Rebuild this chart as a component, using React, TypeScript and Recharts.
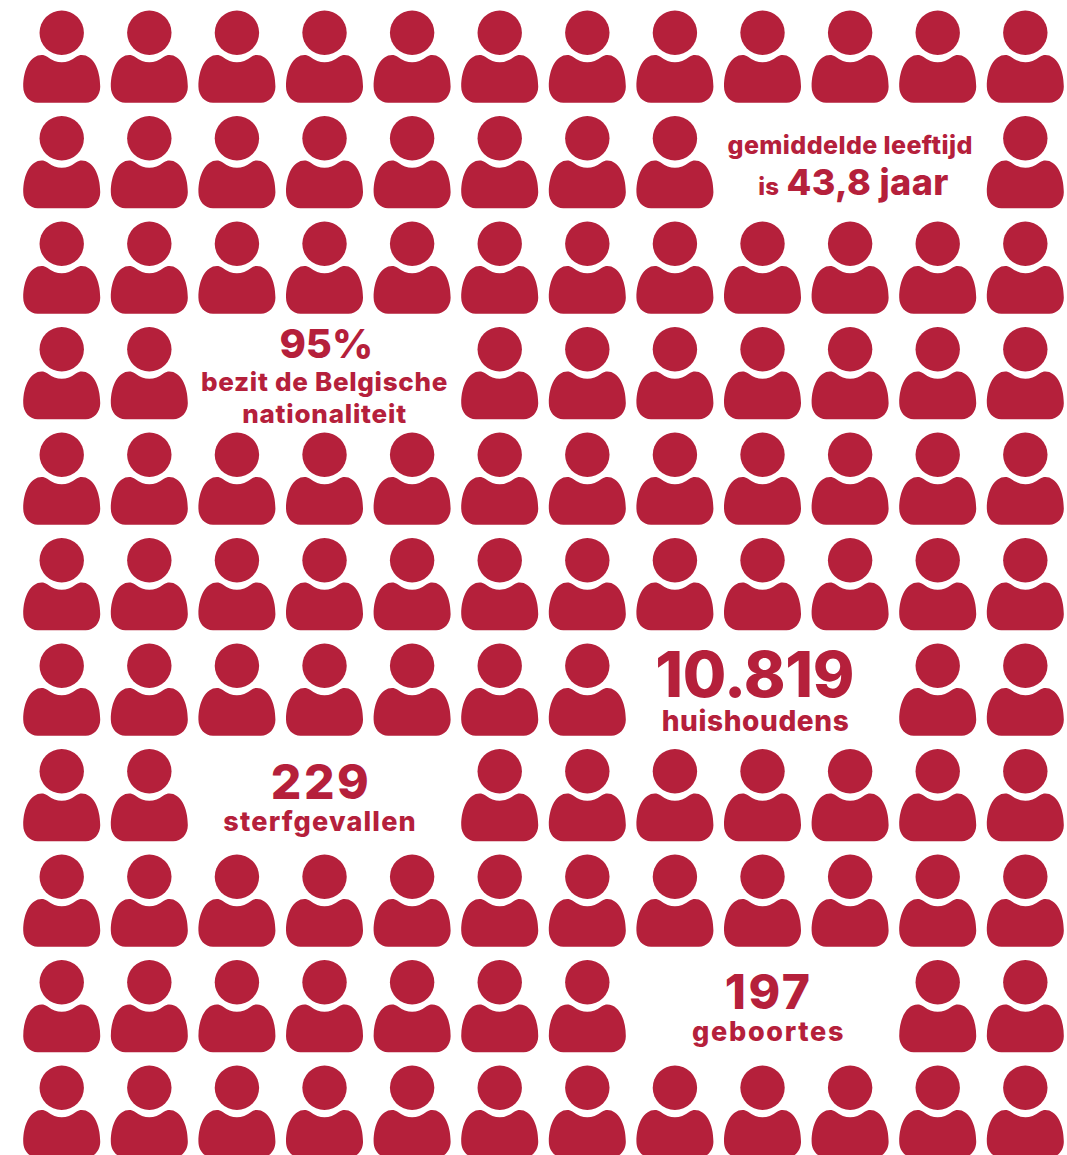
import React from "react";
import { ScatterChart, Scatter, XAxis, YAxis } from "recharts";

const WIDTH = 1067;
const HEIGHT = 1155;
const COLOR = "#b5203b";

const columns = [0, 1, 2, 3, 4, 5, 6, 7, 8, 9, 10, 11];
const rows = [0, 1, 2, 3, 4, 5, 6, 7, 8, 9, 10];
// text blocks take the place of these icons
const emptyRow1 = [8, 9, 10];
const emptyRow3 = [2, 3, 4];
const emptyRow6 = [7, 8, 9];
const emptyRow7 = [2, 3, 4];
const emptyRow9 = [7, 8, 9];

const emptyByRow: Record<number, number[]> = {
  1: emptyRow1,
  3: emptyRow3,
  6: emptyRow6,
  7: emptyRow7,
  9: emptyRow9,
};

const people = rows.flatMap((row) =>
  columns
    .filter((col) => !(emptyByRow[row] || []).includes(col))
    .map((col) => ({ col, row }))
);

const labelTexts = [
  "gemiddelde leeftijd",
  "is",
  "43,8 jaar",
  "95%",
  "bezit de Belgische",
  "nationaliteit",
  "10.819",
  "huishoudens",
  "229",
  "sterfgevallen",
  "197",
  "geboortes",
];
const labelCols = [9.0, 8.07, 9.2, 3.02, 3.0, 3.0, 7.91, 7.92, 2.96, 2.95, 8.07, 8.07];
const labelRows = [1.145, 1.54, 1.54, 3.085, 3.4, 3.7, 6.295, 6.615, 7.26, 7.57, 9.255, 9.56];
const labelFontSizes = [25, 24, 36, 40, 26, 26, 63, 28, 48, 27, 48, 27];
const labelSpacing = [0.4, 0, 0.4, 0, 0.7, 0.8, -0.4, 0.6, 2.5, 1.2, 2.5, 1.7];

const labels = labelTexts.map((text, i) => ({
  col: labelCols[i],
  row: labelRows[i],
  text,
  fontPx: labelFontSizes[i],
  spacing: labelSpacing[i],
}));

const BODY =
  "M-14.5 24Q0 35.2 14.5 24C16.5 22.8 18 22.3 20 22.3C31 22.3 38.5 36 38.5 54C38.5 63 32 70 24 70L-24 70C-32 70 -38.5 63 -38.5 54C-38.5 36 -31 22.3 -20 22.3C-18 22.3 -16.5 22.8 -14.5 24Z";

function Person(props: any) {
  const { cx, cy } = props;
  return (
    <g transform={`translate(${cx} ${cy})`} fill={COLOR}>
      <circle r={22.2} />
      <path d={BODY} />
    </g>
  );
}

function Caption(props: any) {
  const { cx, cy, text, fontPx, spacing } = props;
  return (
    <text
      x={cx}
      y={cy}
      textAnchor="middle"
      fill={COLOR}
      fontFamily="Inter, sans-serif"
      fontWeight={800}
      fontSize={fontPx}
      letterSpacing={spacing}
    >
      {text}
    </text>
  );
}

export default function App() {
  return (
    <div style={{ position: "absolute", left: 0, top: 0, width: WIDTH, height: HEIGHT, overflow: "hidden", background: "#fff" }}>
      <ScatterChart width={WIDTH} height={HEIGHT} margin={{ top: 0, right: 0, bottom: 0, left: 0 }}>
        <XAxis type="number" dataKey="col" domain={[-0.7046, 11.4758]} hide />
        <YAxis type="number" dataKey="row" domain={[-0.31, 10.638]} reversed hide />
        <Scatter data={people} shape={Person} isAnimationActive={false} />
        <Scatter data={labels} shape={Caption} isAnimationActive={false} />
      </ScatterChart>
    </div>
  );
}
